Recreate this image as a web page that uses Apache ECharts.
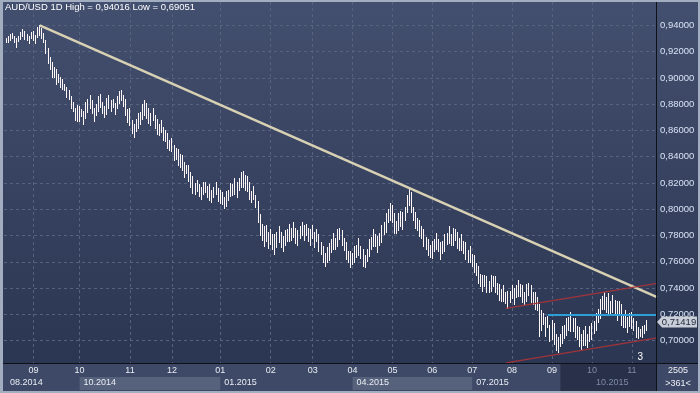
<!DOCTYPE html>
<html><head><meta charset="utf-8">
<script src="https://cdn.jsdelivr.net/npm/echarts@6/dist/echarts.min.js"></script>
<style>html,body{margin:0;padding:0;background:#a2adbf}#c{width:700px;height:393px}</style>
</head><body><div id="c"></div>
<script>
// ---- data: daily [low, high] per month ----
const monthKeys = ['08.2014','09.2014','10.2014','11.2014','12.2014','01.2015','02.2015','03.2015','04.2015','05.2015','06.2015','07.2015','08.2015','09.2015','10.2015','11.2015'];
const aug2014 = [[0.9262,0.9302],[0.9270,0.9320],[0.9284,0.9338],[0.9296,0.9345],[0.9271,0.9322],[0.9232,0.9305],[0.9276,0.9318],[0.9290,0.9350],[0.9308,0.9372],[0.9290,0.9355],[0.9281,0.9334],[0.9258,0.9322],[0.9300,0.9352]];
const sep2014 = [[0.9280,0.9356],[0.9262,0.9330],[0.9305,0.9390],[0.9320,0.94016],[0.9296,0.9378],[0.9268,0.9345],[0.9185,0.9290],[0.9105,0.9225],[0.9060,0.9160],[0.9000,0.9120],[0.8995,0.9080],[0.8950,0.9070],[0.8965,0.9030],[0.8925,0.9005],[0.8905,0.8990],[0.8900,0.8955],[0.8850,0.8935],[0.8835,0.8910],[0.8765,0.8865],[0.8740,0.8815],[0.8675,0.8775],[0.8665,0.8795]];
const oct2014 = [[0.867,0.879],[0.870,0.876],[0.864,0.875],[0.869,0.882],[0.873,0.884],[0.876,0.887],[0.872,0.883],[0.866,0.877],[0.871,0.880],[0.874,0.886],[0.877,0.888],[0.873,0.882],[0.870,0.879],[0.872,0.885],[0.876,0.887],[0.874,0.883],[0.877,0.884],[0.872,0.881],[0.876,0.886],[0.880,0.890],[0.883,0.891],[0.878,0.887],[0.871,0.884],[0.865,0.876]];
const nov2014 = [[0.863,0.877],[0.857,0.868],[0.854,0.865],[0.859,0.869],[0.861,0.873],[0.864,0.874],[0.868,0.880],[0.871,0.883],[0.869,0.881],[0.865,0.877],[0.863,0.873],[0.867,0.877],[0.861,0.872],[0.857,0.869],[0.856,0.865],[0.858,0.868],[0.852,0.863],[0.851,0.860],[0.846,0.858],[0.845,0.853]];
const dec2014 = [[0.843,0.854],[0.837,0.849],[0.838,0.847],[0.833,0.846],[0.831,0.842],[0.829,0.841],[0.824,0.836],[0.827,0.834],[0.821,0.834],[0.816,0.828],[0.811,0.825],[0.811,0.820],[0.813,0.822],[0.809,0.819],[0.807,0.817],[0.811,0.821],[0.813,0.821],[0.809,0.818],[0.806,0.819],[0.805,0.815],[0.809,0.817],[0.811,0.821],[0.805,0.816]];
const jan2015 = [[0.804,0.815],[0.803,0.813],[0.800,0.809],[0.802,0.814],[0.807,0.815],[0.809,0.820],[0.810,0.819],[0.811,0.824],[0.809,0.821],[0.814,0.824],[0.816,0.828],[0.816,0.829],[0.814,0.826],[0.813,0.825],[0.807,0.821],[0.805,0.814],[0.807,0.818],[0.801,0.811],[0.789,0.806],[0.779,0.796],[0.776,0.789],[0.771,0.787],[0.775,0.788],[0.770,0.783]];
const feb2015 = [[0.773,0.785],[0.769,0.781],[0.765,0.781],[0.771,0.783],[0.774,0.787],[0.771,0.783],[0.768,0.780],[0.772,0.784],[0.775,0.785],[0.775,0.789],[0.776,0.786],[0.778,0.790],[0.774,0.786],[0.772,0.784],[0.777,0.787],[0.779,0.790],[0.776,0.788],[0.780,0.789],[0.775,0.786],[0.772,0.785]];
const mar2015 = [[0.777,0.788],[0.771,0.783],[0.775,0.785],[0.767,0.781],[0.765,0.775],[0.759,0.772],[0.756,0.767],[0.759,0.771],[0.760,0.774],[0.766,0.777],[0.769,0.782],[0.769,0.778],[0.771,0.785],[0.777,0.786],[0.772,0.784],[0.768,0.778],[0.761,0.775],[0.759,0.768],[0.755,0.768]];
const apr2015 = [[0.758,0.767],[0.759,0.772],[0.763,0.773],[0.764,0.778],[0.762,0.772],[0.756,0.770],[0.755,0.765],[0.760,0.770],[0.763,0.777],[0.769,0.779],[0.771,0.785],[0.771,0.781],[0.767,0.780],[0.772,0.782],[0.774,0.788],[0.780,0.790],[0.782,0.797],[0.789,0.800],[0.791,0.805]];
const may2015 = [[0.789,0.803],[0.781,0.797],[0.781,0.791],[0.783,0.797],[0.787,0.799],[0.784,0.798],[0.791,0.802],[0.797,0.811],[0.803,0.8165],[0.797,0.813],[0.791,0.802],[0.785,0.798],[0.783,0.793],[0.779,0.792],[0.777,0.787],[0.771,0.785],[0.769,0.779],[0.764,0.777],[0.763,0.773]];
const jun2015 = [[0.762,0.776],[0.767,0.777],[0.769,0.782],[0.767,0.777],[0.761,0.775],[0.766,0.776],[0.767,0.781],[0.773,0.782],[0.773,0.787],[0.772,0.781],[0.772,0.786],[0.776,0.785],[0.770,0.783],[0.768,0.778],[0.768,0.781],[0.766,0.776],[0.761,0.775],[0.759,0.769],[0.759,0.772]];
const jul2015 = [[0.756,0.766],[0.751,0.765],[0.749,0.759],[0.743,0.757],[0.741,0.751],[0.737,0.750],[0.741,0.750],[0.736,0.749],[0.736,0.745],[0.737,0.750],[0.741,0.749],[0.736,0.749],[0.735,0.744],[0.730,0.743],[0.729,0.739],[0.729,0.742],[0.728,0.737],[0.724,0.738],[0.729,0.738]];
const aug2015 = [[0.731,0.742],[0.727,0.740],[0.732,0.742],[0.733,0.746],[0.733,0.743],[0.728,0.742],[0.727,0.737],[0.729,0.743],[0.734,0.744],[0.728,0.742],[0.727,0.737],[0.723,0.737],[0.722,0.733],[0.703,0.728],[0.707,0.723],[0.712,0.721],[0.703,0.718],[0.710,0.719],[0.699,0.712]];
const sep2015 = [[0.701,0.716],[0.696,0.713],[0.692,0.705],[0.69051,0.703],[0.695,0.705],[0.697,0.711],[0.701,0.712],[0.703,0.717],[0.707,0.718],[0.707,0.722],[0.706,0.717],[0.702,0.717],[0.700,0.711],[0.695,0.710],[0.693,0.705],[0.696,0.708],[0.696,0.711],[0.694,0.705],[0.699,0.711]];
const oct2015 = [[0.700,0.713],[0.705,0.715],[0.707,0.721],[0.713,0.724],[0.717,0.732],[0.723,0.734],[0.723,0.737],[0.721,0.733],[0.720,0.736],[0.719,0.730],[0.721,0.735],[0.720,0.731],[0.715,0.730],[0.720,0.730],[0.711,0.728],[0.709,0.720],[0.709,0.723],[0.706,0.718],[0.710,0.721]];
const nov2015 = [[0.709,0.722],[0.707,0.717],[0.702,0.715],[0.701,0.710],[0.703,0.709],[0.702,0.711],[0.705,0.712],[0.708,0.716]];
const monthData = [aug2014,sep2014,oct2014,nov2014,dec2014,jan2015,feb2015,mar2015,apr2015,may2015,jun2015,jul2015,aug2015,sep2015,oct2015,nov2015];
const lastClose = 0.71419;
const yTicks = [0.70,0.72,0.74,0.76,0.78,0.80,0.82,0.84,0.86,0.88,0.90,0.92,0.94];
const quarterMonths = ['08.2014','10.2014','01.2015','04.2015','07.2015','10.2015'];
const dimMonths = ['10.2015','11.2015'];
// drawn lines: [monthKey, barIndex, value] start -> end value at right edge
const trendEnd = 0.7331;
const upperChannel = [['07.2015',16,0.7245],0.7436];
const lowerChannel = [['07.2015',16,0.6830],0.7020];
const blueLevel = [['08.2015',17],0.7199];

// ---- build categories ----
const cats = ['pad-start'];
const monthStart = {};
const bars = [];
monthKeys.forEach((m, mi) => {
  monthStart[cats.length] = m;
  monthData[mi].forEach((d, j) => { bars.push([cats.length, d[0], d[1]]); cats.push(m + '-' + j); });
});
for (let p = 1; p <= 5; p++) cats.push('pad-end-' + p);
const lastCat = cats[cats.length - 1];
const cat = (m, j) => m + '-' + j;
let hiIdx = 0, hiVal = -1;
bars.forEach(b => { if (b[2] > hiVal) { hiVal = b[2]; hiIdx = b[0]; } });

const FONT = 'Liberation Sans';
const isMonthLabel = i => i > 1 && monthStart[i] !== undefined;
const isQuarter = i => monthStart[i] !== undefined && quarterMonths.includes(monthStart[i]);
const isDim = v => dimMonths.some(m => String(v).startsWith(m));

const chart = echarts.init(document.getElementById('c'));
const option = {
  animation: false,
  backgroundColor: '#a2adbf',
  textStyle: { fontFamily: FONT },
  title: { text: 'AUD/USD 1D High = 0,94016 Low = 0,69051', left: 5, top: 2, padding: 0,
    textStyle: { color: '#ffffff', fontSize: 9.5, fontWeight: 'normal', fontFamily: FONT } },
  grid: { left: 4, right: 43, top: 2, bottom: 30 },
  xAxis: [{
    type: 'category', data: cats, boundaryGap: false,
    axisLine: { show: false }, axisTick: { show: false },
    axisLabel: { interval: (i) => isMonthLabel(i), formatter: (v, i) => monthStart[i] ? monthStart[i].slice(0, 2) : '',
      color: (v) => isDim(v) ? '#7f8ba2' : '#e9edf4', fontSize: 9, margin: 3, fontFamily: FONT },
    splitLine: { show: true, interval: (i) => isMonthLabel(i), lineStyle: { color: '#56627e', type: [3, 3], width: 1 } }
  }, {
    type: 'category', data: cats, boundaryGap: false, position: 'bottom', offset: 12,
    axisLine: { show: false }, axisTick: { show: false }, splitLine: { show: false },
    axisLabel: { interval: (i) => isQuarter(i), formatter: (v, i) => monthStart[i] || '', align: 'left', padding: [0, 0, 0, 4],
      color: (v) => isDim(v) ? '#7f8ba2' : '#e9edf4', fontSize: 9, margin: 3, fontFamily: FONT }
  }],
  yAxis: {
    type: 'value', position: 'right', min: 0.68286, max: 0.9579,
    axisLine: { show: false }, axisTick: { show: false, customValues: yTicks },
    axisLabel: { customValues: yTicks, formatter: v => v.toFixed(5).replace('.', ','), color: '#d8e3f5', fontSize: 9.5, margin: 3, fontFamily: FONT },
    splitLine: { show: true, lineStyle: { color: '#56627e', type: [3, 3], width: 1 } }
  },
  series: [{
    type: 'custom', xAxisIndex: 0, yAxisIndex: 0, data: bars, encode: { x: 0, y: [1, 2] },
    renderItem: (params, api) => {
      const k = api.value(0), lo = api.value(1), hi = api.value(2);
      const a = api.coord([k, hi]), b = api.coord([k, lo]);
      const x = Math.floor(a[0]);
      return { type: 'rect', shape: { x: x, y: Math.round(a[1]), width: 1, height: Math.max(1, Math.round(b[1] - a[1])) },
        style: { fill: '#fff7f5' } };
    },
    markLine: {
      silent: true, symbol: ['none', 'none'], label: { show: false }, animation: false,
      data: [
        [{ coord: [cats[hiIdx], hiVal], lineStyle: { color: '#d8d1b3', width: 2.5, type: 'solid' } }, { coord: [lastCat, trendEnd] }],
        [{ coord: [cat(upperChannel[0][0], upperChannel[0][1]), upperChannel[0][2]], lineStyle: { color: '#a0343b', width: 1.3, type: 'solid' } }, { coord: [lastCat, upperChannel[1]] }],
        [{ coord: [cat(lowerChannel[0][0], lowerChannel[0][1]), lowerChannel[0][2]], lineStyle: { color: '#a0343b', width: 1.3, type: 'solid' } }, { coord: [lastCat, lowerChannel[1]] }],
        [{ coord: [cat(blueLevel[0][0], blueLevel[0][1]), blueLevel[1]], lineStyle: { color: '#2d9fd6', width: 2, type: 'solid' } }, { coord: [lastCat, blueLevel[1]] }]
      ]
    },
    markPoint: {
      silent: true, animation: false,
      data: [
        { coord: [lastCat, lastClose], symbol: 'path://M0,5L5,0L40,0L40,10L5,10Z', symbolSize: [40, 11], symbolOffset: [20, 0],
          itemStyle: { color: '#c9ced8' }, label: { show: true, formatter: '0,71419', color: '#1d2538', fontSize: 9.5, position: 'inside', offset: [2, 0], fontFamily: FONT } },
        { coord: [cat('11.2015', 4), 0.6874], symbol: 'rect', symbolSize: 1, itemStyle: { color: 'rgba(0,0,0,0)' },
          label: { show: true, formatter: '3', color: '#ffffff', fontSize: 10, position: 'inside', fontFamily: FONT } }
      ]
    }
  }]
};
chart.setOption(option);

const px = c => chart.convertToPixel({ xAxisIndex: 0 }, c);
const grad = () => new echarts.graphic.LinearGradient(0, 0, 0, 1, [{ offset: 0, color: '#434f6e' }, { offset: 1, color: '#2b3652' }]);
const xOct14 = px(cat('10.2014', 0)), xJan15 = px(cat('01.2015', 0));
const xApr15 = px(cat('04.2015', 0)), xJul15 = px(cat('07.2015', 0));
const xDark = px(cat('09.2015', 4));
chart.setOption({
  graphic: [
    { type: 'rect', z: -10, shape: { x: 3, y: 2, width: 654, height: 361 }, style: { fill: grad() } },
    { type: 'rect', z: -10, shape: { x: 657, y: 2, width: 41, height: 361 }, style: { fill: grad() } },
    { type: 'rect', z: -10, shape: { x: 3, y: 363, width: 654, height: 28 }, style: { fill: '#3e4967' } },
    { type: 'rect', z: -9, shape: { x: xOct14, y: 377, width: xJan15 - xOct14, height: 13 }, style: { fill: '#56617b' } },
    { type: 'rect', z: -9, shape: { x: xApr15, y: 377, width: xJul15 - xApr15, height: 13 }, style: { fill: '#56617b' } },
    { type: 'rect', z: -9, shape: { x: xDark, y: 363, width: 657 - xDark, height: 28 }, style: { fill: '#283149' } },
    { type: 'rect', z: -10, shape: { x: 657, y: 363, width: 41, height: 28 }, style: { fill: '#3e4967' } },
    { type: 'line', z: 5, shape: { x1: 656.5, y1: 2, x2: 656.5, y2: 391 }, style: { stroke: '#0e1118', lineWidth: 1 } },
    { type: 'line', z: 5, shape: { x1: 3, y1: 363.5, x2: 698, y2: 363.5 }, style: { stroke: '#0e1118', lineWidth: 1 } },
    { type: 'text', z: 5, style: { x: 678, y: 371, text: '2505', fill: '#eef1f6', fontSize: 9, fontFamily: FONT, align: 'center', verticalAlign: 'middle' } },
    { type: 'text', z: 5, style: { x: 678, y: 384, text: '>361<', fill: '#eef1f6', fontSize: 9, fontFamily: FONT, align: 'center', verticalAlign: 'middle' } }
  ]
});
</script></body></html>
